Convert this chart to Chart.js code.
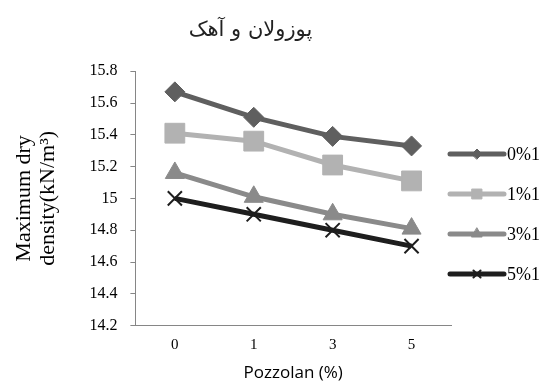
<!DOCTYPE html>
<html>
<head>
<meta charset="utf-8">
<script src="https://cdn.jsdelivr.net/npm/chart.js@4/dist/chart.umd.min.js"></script>
<style>
  body { margin: 0; background: #fff; }
  #wrap { width: 544px; height: 390px; }
</style>
</head>
<body>
<div id="wrap"><canvas id="chart1"></canvas></div>
<script>
// donnees
const categories = ["0", "1", "3", "5"];
const seriesNames = ["0%1", "1%1", "3%1", "5%1"];
const lime0 = [15.67, 15.51, 15.39, 15.33];
const lime1 = [15.41, 15.36, 15.21, 15.11];
const lime3 = [15.16, 15.01, 14.90, 14.81];
const lime5 = [15.00, 14.90, 14.80, 14.70];
const legendRadius = [5, 7, 6, 5];

const serif = "'Liberation Serif', 'Times New Roman', serif";

// legende avec ligne + marqueur, comme dans Excel
const lineLegend = {
  id: 'lineLegend',
  afterDraw(chart) {
    const ctx = chart.ctx;
    const x0 = chart.chartArea.right - 1;
    chart.data.datasets.forEach((ds, i) => {
      const y = 154 + i * 40;
      ctx.save();
      ctx.strokeStyle = ds.borderColor;
      ctx.lineWidth = 5;
      ctx.lineCap = 'round';
      ctx.beginPath();
      ctx.moveTo(x0, y);
      ctx.lineTo(x0 + 54, y);
      ctx.stroke();
      ctx.fillStyle = ds.borderColor;
      ctx.lineWidth = ds.pointBorderWidth;
      Chart.helpers.drawPoint(ctx, {
        pointStyle: ds.pointStyle,
        radius: legendRadius[i],
        borderWidth: ds.pointBorderWidth
      }, x0 + 27, y);
      ctx.fillStyle = '#000';
      ctx.font = "18px " + serif;
      ctx.textBaseline = 'middle';
      ctx.fillText(ds.label, x0 + 57, y + 1);
      ctx.restore();
    });
  }
};

function serie(label, data, color, style, r) {
  return {
    label: label,
    data: data,
    borderColor: color,
    backgroundColor: color,
    pointBackgroundColor: color,
    pointBorderColor: color,
    borderWidth: 5,
    pointStyle: style,
    pointRadius: r,
    pointHoverRadius: r,
    pointBorderWidth: style === 'crossRot' ? 2 : 1,
    tension: 0
  };
}

new Chart(document.getElementById("chart1"), {
  type: 'line',
  data: {
    labels: categories,
    datasets: [
      serie(seriesNames[0], lime0, "#5f5f5f", 'rectRot', 10),
      serie(seriesNames[1], lime1, "#b2b2b2", 'rect', 14),
      serie(seriesNames[2], lime3, "#8a8a8a", 'triangle', 11),
      serie(seriesNames[3], lime5, "#1e1e1e", 'crossRot', 10)
    ]
  },
  options: {
    responsive: true,
    maintainAspectRatio: false,
    animation: false,
    layout: { padding: { top: 0, right: 93, bottom: 3, left: 10 } },
    plugins: {
      legend: { display: false },
      tooltip: { enabled: false },
      title: {
        display: true,
        // espaces insecables pour decaler le titre vers la droite
        text: '\u00A0\u00A0\u00A0\u00A0\u00A0\u00A0پوزولان و آهک',
        color: '#222',
        font: { family: "'DejaVu Sans', serif", size: 21, weight: 'normal' },
        padding: { top: 18, bottom: 28 }
      }
    },
    scales: {
      x: {
        offset: true,
        grid: { display: false, drawOnChartArea: false, drawTicks: true, tickLength: 5, color: '#868686' },
        border: { color: '#868686', width: 1 },
        ticks: { color: '#000', font: { family: serif, size: 15 }, padding: 5 },
        title: {
          display: true,
          text: 'Pozzolan (%)',
          color: '#000',
          font: { family: "'Open Sans', sans-serif", size: 17 },
          padding: { top: 4 }
        }
      },
      y: {
        min: 14.2,
        max: 15.8,
        grid: { drawOnChartArea: false, drawTicks: true, tickLength: 5, color: '#868686' },
        border: { color: '#868686', width: 1 },
        ticks: {
          stepSize: 0.2, color: '#000', font: { family: serif, size: 16 }, padding: 13,
          callback: v => String(+v.toFixed(1))
        },
        title: {
          display: true,
          text: ['Maximum dry', 'density(kN/m³)'],
          color: '#000',
          font: { family: serif, size: 22, lineHeight: 1.1 },
          padding: { top: 2, bottom: 16 }
        }
      }
    }
  },
  plugins: [lineLegend]
});
</script>
</body>
</html>
